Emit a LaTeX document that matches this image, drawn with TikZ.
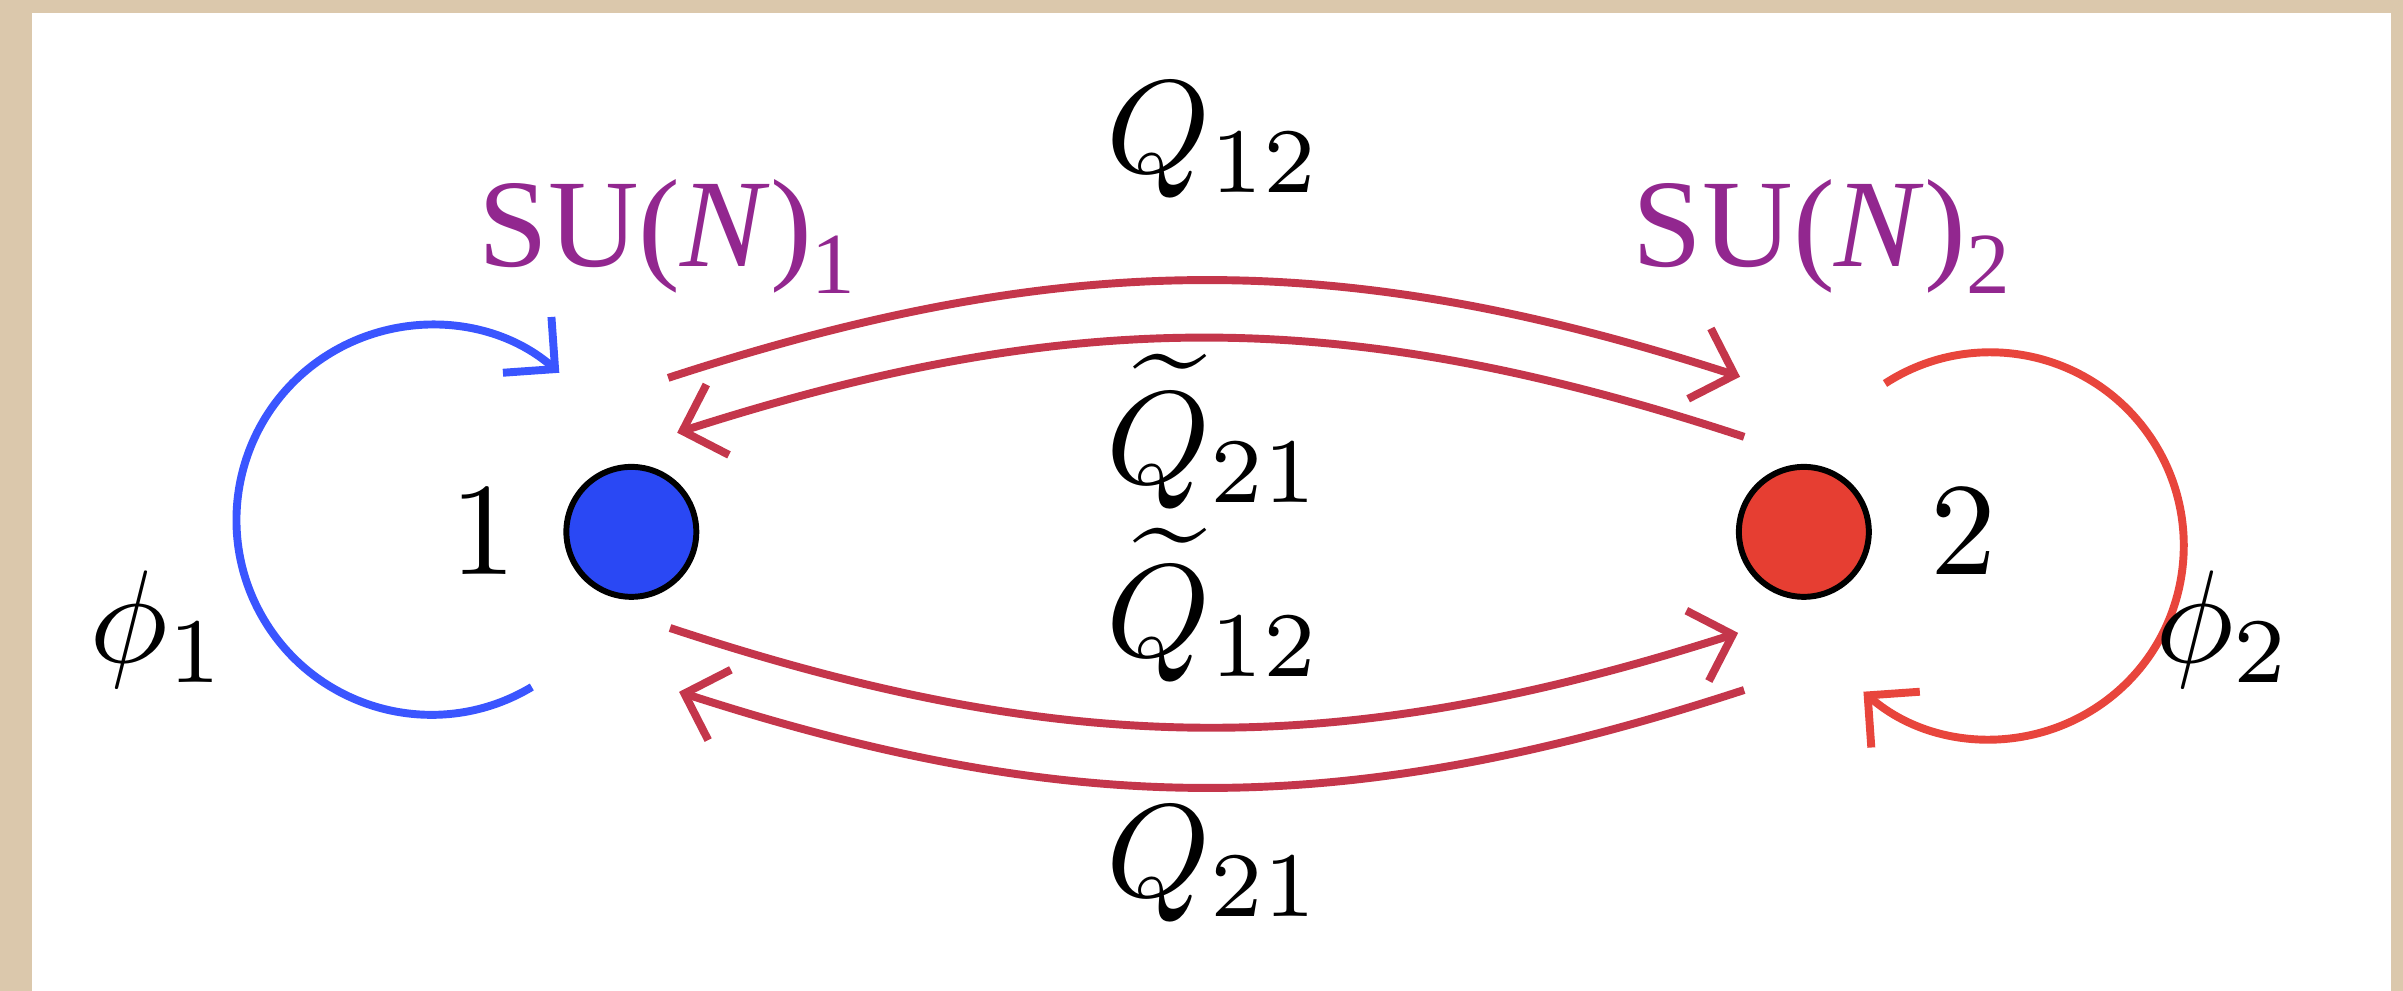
\documentclass[tikz,border=0pt]{standalone}
\usepackage{amsmath}
\usepackage{fontspec}
\usepackage{tikz}
\usetikzlibrary{arrows.meta, positioning, calc}
\newfontfamily\groupfont{Liberation Serif}
\definecolor{paper}{HTML}{DBC8AC}
\definecolor{nodeblue}{HTML}{2A48F4}
\definecolor{loopblue}{HTML}{3A55FF}
\definecolor{nodered}{HTML}{E63E32}
\definecolor{loopred}{HTML}{E8453C}
\definecolor{bifund}{HTML}{C4364B}
\definecolor{groupcol}{HTML}{92278F}
\tikzset{
  gauge/.style={
    circle, draw=black, line width=0.45pt,
    minimum size=0.346cm, inner sep=0pt,
  },
  bifarrow/.style={-{Straight Barb[length=2.8pt,width=5.6pt]}, line width=0.6pt, color=bifund},
  adjarrow/.style={-{Straight Barb[length=2.8pt,width=5.6pt]}, line width=0.6pt},
  grouplabel/.style={anchor=base, inner sep=0pt, text=groupcol, font=\groupfont\fontsize{9.5}{11}\selectfont},
  fieldlabel/.style={anchor=base, inner sep=0pt},
}

\begin{document}
\begin{tikzpicture}

  % paper and sheet
  \fill[paper] (-3.234,-1.222) rectangle (3.164,1.416);
  \fill[white] (-3.148,-1.222) rectangle (3.132,1.382);
  \useasboundingbox (-3.234,-1.222) rectangle (3.164,1.416);

  % the two nodes
  \node[gauge, fill=nodeblue] (node1) at (-1.553,0) {};
  \node[gauge, fill=nodered, right=2.76cm of node1] (node2) {};
  \node[left=0pt of node1] (lab1) {$1$};
  \node[right=0.9pt of node2] (lab2) {$2$};

  % gauge groups
  \node[grouplabel] (su1) at (-1.458,0.706) {SU(\textit{N})\raisebox{-2pt}{\fontsize{6.6}{7}\selectfont 1}};
  \node[grouplabel] (su2) at (1.615,0.706) {SU(\textit{N})\raisebox{-2pt}{\fontsize{6.6}{7}\selectfont 2}};

  % adjoints
  \draw[adjarrow, loopblue] ([shift={(-0.265,-0.413)}]node1.center) arc[start angle=-59, end angle=-311, radius=0.519];
  \draw[adjarrow, loopred] ([shift={(0.216,0.395)}]node2.center) arc[start angle=123, end angle=-131, radius=0.515];

  % bifundamentals
  \draw[bifarrow] ([shift={(0.098,0.41)}]node1.center) to[bend left=18] ([shift={(-0.17,0.413)}]node2.center);
  \draw[bifarrow] ([shift={(-0.159,0.253)}]node2.center) to[bend right=18] ([shift={(0.122,0.264)}]node1.center);
  \draw[bifarrow] ([shift={(0.103,-0.256)}]node1.center) to[bend right=18] ([shift={(-0.175,-0.269)}]node2.center);
  \draw[bifarrow] ([shift={(-0.159,-0.421)}]node2.center) to[bend left=18] ([shift={(0.127,-0.426)}]node1.center);

  \node[fieldlabel] (q12) at (0,0.956) {$Q_{12}$};
  \node[fieldlabel] (qt21) at (0,0.130) {$\widetilde{Q}_{21}$};
  \node[fieldlabel] (qt12) at (0,-0.333) {$\widetilde{Q}_{12}$};
  \node[fieldlabel] (q21) at (0,-0.972) {$Q_{21}$};
  \node[fieldlabel] (phi1) at (-2.812,-0.349) {$\phi_1$};
  \node[fieldlabel] (phi2) at (2.688,-0.349) {$\phi_2$};

\end{tikzpicture}
\end{document}
